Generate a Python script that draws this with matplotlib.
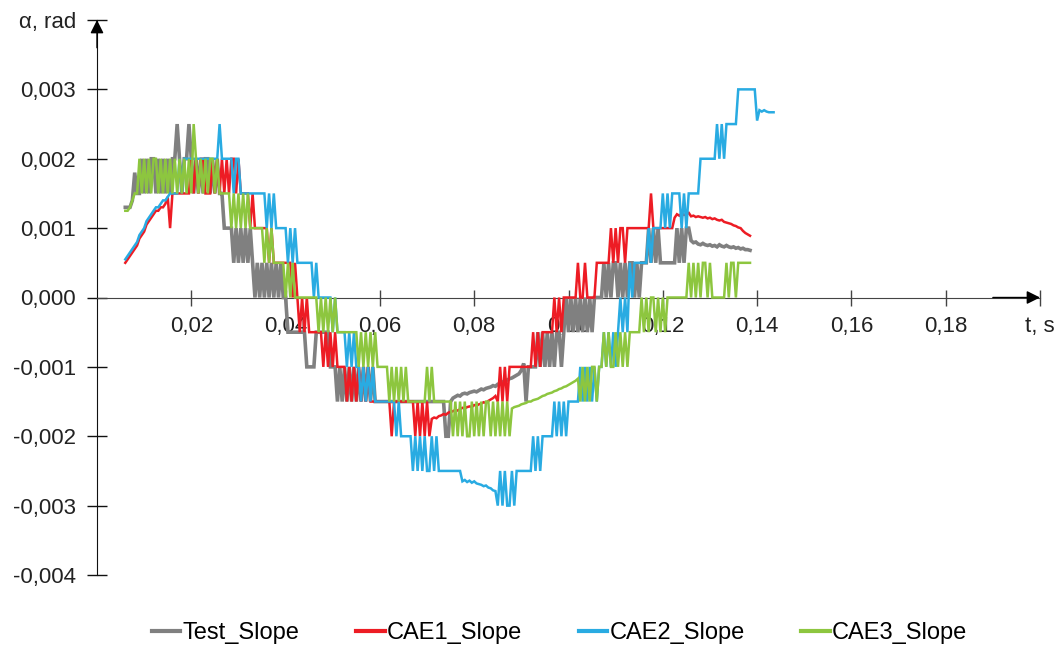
import numpy as np
import matplotlib.pyplot as plt

plt.rcParams['font.family'] = ['Liberation Sans', 'DejaVu Sans']

# samples start at 6 ms, one every 0.5 ms; values in 1e-4 rad
t_start = 0.006
t_step = 0.0005
unit = 1e-4

test_slope = [
    13, 13, 13, 14, 18, 15, 15, 20, 15, 20, 15, 20, 20, 15, 20, 15, 20, 15, 20, 15,
    20, 20, 25, 20, 15, 20, 20, 25, 20, 15, 20, 15, 20, 15, 20, 20, 15, 20, 15, 20,
    15, 15, 10, 10, 10, 10, 5, 10, 5, 10, 5, 10, 5, 10, 5, 0, 5, 0, 5, 0,
    5, 0, 5, 0, 5, 0, 5, 0, 0, -5, -5, -5, -5, -5, -5, -5, -5, -10, -10, -10,
    -10, -5, -5, -5, -5, -5, -5, -10, -10, -10, -15, -10, -15, -10, -15, -10, -15, -10, -15, -10,
    -15, -10, -15, -10, -15, -10, -15, -15, -15, -15, -15, -15, -15, -15, -15, -15, -15, -15, -15, -15,
    -15, -15, -15, -15, -15, -15, -15, -15, -15, -15, -15, -15, -15, -15, -15, -15, -20, -20, -15, -14.5,
    -14.3, -14.1, -14.2, -13.9, -13.8, -13.9, -13.7, -13.6, -13.5, -13.6, -13.4, -13.2, -13.3, -13.1, -13.0, -12.9, -12.7, -12.8, -12.5, -12.4,
    -12.2, -12.0, -11.9, -11.7, -11.6, -11.4, -11.2, -11.0, -10.5, -9.5, -15, -10, -10, -10, -10, -5, -10, -5, -10, -5,
    -10, -5, -10, -5, -5, -10, -5, 0, -5, 0, -5, 0, -5, 0, -5, 0, -5, 0, -5, 0,
    0, 0, 0, 5, 0, 5, 0, 5, 5, 0, 5, 0, 5, 0, 5, 5, 0, 5, 0, 5,
    5, 5, 10, 5, 10, 5, 10, 5, 5, 5, 5, 5, 5, 5, 10, 5, 10, 5, 10, 10,
    8.2, 7.9, 8.0, 7.7, 7.6, 7.8, 7.6, 7.5, 7.6, 7.4, 7.5, 7.3, 7.6, 7.4, 7.3, 7.5, 7.3, 7.2, 7.3, 7.1,
    7.2, 7.0, 7.1, 6.9, 6.9, 6.8,
]

cae1_slope = [
    5, 5.5, 6, 6.5, 7, 7.5, 8.5, 9, 9.5, 10.5, 11, 11.5, 12, 12.5, 12.5, 13, 13, 13.5, 14.5, 10,
    15, 15, 15, 15, 15, 15, 15, 15, 20, 15, 20, 15, 20, 20, 15, 15, 15, 20, 15, 20,
    15, 20, 15, 20, 15, 20, 20, 15, 20, 15, 15, 15, 15, 10, 15, 10, 10, 10, 10, 10,
    10, 5, 10, 5, 5, 5, 5, 5, 5, 5, 5, 0, 5, 0, -5, 0, -5, 0, -5, -5,
    -5, -5, -5, -5, -10, -5, -10, -5, -10, -5, -10, -10, -10, -10, -15, -10, -15, -10, -15, -10,
    -15, -10, -15, -10, -15, -15, -15, -15, -15, -15, -15, -15, -15, -20, -15, -15, -15, -15, -15, -15,
    -15, -15, -15, -20, -15, -20, -15, -20, -15, -20, -17.5, -17.3, -17.4, -17.1, -17.0, -16.8, -16.9, -16.6, -16.5, -16.4,
    -16.2, -16.3, -16.1, -15.9, -16.0, -15.8, -15.7, -15.8, -15.5, -15.6, -15.4, -15.3, -15.1, -15.2, -14.9, -14.7, -14.5, -14.2, -15, -10,
    -15, -10, -15, -10, -10, -10, -10, -10, -10, -10, -10, -10, -10, -5, -10, -5, -10, -5, -5, -5,
    -5, -5, 0, -5, 0, -5, 0, 0, 0, 0, 0, 0, 5, 0, 0, 5, 0, 0, 0, 0,
    5, 5, 5, 5, 5, 5, 10, 5, 10, 5, 10, 10, 5, 10, 10, 10, 10, 10, 10, 10,
    10, 10, 10, 15, 10, 10, 10, 10, 10, 10, 10, 10, 10, 11.5, 12.0, 11.8, 12.1, 11.9, 12.0, 12.2,
    11.7, 11.8, 11.6, 11.7, 11.6, 11.5, 11.6, 11.4, 11.5, 11.3, 11.4, 11.2, 11.1, 11.2, 10.9, 10.8, 10.7, 10.6, 10.4, 10.3,
    10.1, 10.0, 9.6, 9.3, 9.1, 8.9,
]

cae2_slope = [
    5.5, 6, 6.5, 7, 7.5, 8, 9, 9.5, 10, 11, 11.5, 12, 12.5, 13, 13, 13.5, 14, 14, 14.5, 15,
    15, 15, 15, 20, 15, 20, 20, 20, 20, 20, 20, 20, 20, 20, 20, 20, 20, 20, 20, 20,
    25, 20, 20, 20, 20, 20, 15, 20, 20, 15, 15, 15, 15, 15, 15, 15, 15, 15, 15, 15,
    10, 15, 10, 15, 10, 10, 10, 10, 10, 5, 10, 5, 10, 5, 5, 5, 5, 5, 5, 5,
    0, 5, 0, 0, 0, 0, 0, 0, -5, 0, -5, -5, -5, -5, -10, -5, -10, -5, -10, -10,
    -15, -10, -15, -10, -15, -10, -15, -15, -15, -15, -15, -15, -15, -15, -15, -20, -15, -20, -20, -20,
    -20, -20, -25, -20, -25, -20, -25, -20, -25, -25, -20, -25, -20, -25, -25, -25, -25, -25, -25, -25,
    -25, -25, -25, -26.5, -26.3, -26.6, -26.4, -26.7, -26.5, -26.8, -26.9, -27.0, -27.2, -27.1, -27.4, -27.5, -27.8, -27.9, -30, -25,
    -30, -25, -30, -30, -25, -30, -25, -25, -25, -25, -25, -25, -25, -20, -25, -20, -25, -20, -20, -20,
    -20, -20, -15, -20, -15, -20, -15, -20, -15, -15, -15, -15, -15, -10, -15, -10, -15, -10, -15, -10,
    -15, -10, -10, -5, -10, -5, -10, -5, -10, -5, 0, -5, 0, -5, 5, 0, 5, 5, 5, 5,
    5, 5, 10, 5, 10, 10, 10, 10, 15, 10, 15, 10, 15, 15, 15, 15, 10, 15, 10, 15,
    15, 15, 15, 15, 20, 20, 20, 20, 20, 20, 20, 25, 20, 25, 20, 25, 25, 25, 25, 25,
    30, 30, 30, 30, 30, 30, 30, 30, 25.5, 27.0, 26.8, 27.0, 26.8, 26.7, 26.7, 26.7,
]

cae3_slope = [
    12.5, 12.5, 13, 14, 15, 15, 20, 15, 20, 15, 20, 15, 20, 20, 15, 20, 15, 20, 15, 20,
    15, 20, 15, 20, 15, 20, 15, 20, 15, 25, 20, 15, 20, 15, 20, 15, 20, 20, 15, 20,
    15, 15, 15, 15, 15, 10, 15, 10, 15, 10, 15, 10, 15, 10, 10, 10, 10, 10, 10, 5,
    10, 5, 10, 5, 5, 5, 5, 5, 0, 5, 0, 5, 0, 0, 0, 0, 0, 0, 0, 0,
    0, 0, -5, 0, -5, 0, -5, 0, -5, 0, -5, -5, -5, -5, -5, -5, -5, -5, -5, -10,
    -5, -10, -5, -10, -5, -10, -5, -10, -10, -10, -10, -10, -15, -10, -15, -10, -15, -10, -15, -10,
    -15, -15, -15, -15, -15, -15, -15, -15, -10, -15, -10, -15, -15, -15, -15, -15, -15, -15, -15, -20,
    -15, -20, -15, -20, -15, -20, -20, -15, -20, -15, -20, -15, -20, -15, -15, -20, -15, -20, -15, -20,
    -15, -20, -15, -20, -16.0, -15.8, -15.7, -15.6, -15.4, -15.3, -15.2, -15.0, -15.0, -14.8, -14.7, -14.6, -14.4, -14.2, -14.1, -13.9,
    -13.8, -13.7, -13.5, -13.4, -13.2, -13.1, -12.9, -12.8, -12.6, -12.4, -12.2, -12.0, -11.7, -15, -10, -15, -10, -15, -10, -10,
    -15, -10, -10, -5, -10, -5, -10, -10, -5, -10, -5, -10, -5, -10, -5, -5, -5, -5, -5, 0,
    -5, 0, -5, 0, 0, -5, 0, -5, 0, -5, 0, 0, 0, 0, 0, 0, 0, 0, 0, 5,
    0, 5, 0, 5, 0, 5, 5, 0, 5, 0, 0, 0, 0, 0, 0, 5, 0, 5, 5, 0,
    5, 5, 5, 5, 5, 5,
]

series = [
    ('Test_Slope', test_slope, '#808080', 2.6),
    ('CAE1_Slope', cae1_slope, '#ED1C24', 1.8),
    ('CAE2_Slope', cae2_slope, '#29ABE2', 1.8),
    ('CAE3_Slope', cae3_slope, '#8DC63F', 1.8),
]

x_ticks = [0.02, 0.04, 0.06, 0.08, 0.10, 0.12, 0.14, 0.16, 0.18, 0.20]
x_labels = ['0,02', '0,04', '0,06', '0,08', '0,10', '0,12', '0,14', '0,16', '0,18', 't, s']
y_ticks = [-0.004, -0.003, -0.002, -0.001, 0.0, 0.001, 0.002, 0.003, 0.004]
y_labels = ['-0,004', '-0,003', '-0,002', '-0,001', '0,000', '0,001', '0,002', '0,003', 'α, rad']

W, H = 1058, 646
fig = plt.figure(figsize=(W / 100, H / 100), dpi=100)
ax = fig.add_axes([97 / W, 1 - 575 / H, (1040 - 97) / W, (575 - 20) / H])

for name, vals, color, lw in series:
    v = np.array(vals) * unit
    t = t_start + t_step * np.arange(len(v))
    ax.plot(t, v, color=color, lw=lw, label=name, zorder=3, solid_joinstyle='miter')

ax.set_xlim(0, 0.2)
ax.set_ylim(-0.004, 0.004)
ax.spines['left'].set_position(('data', 0))
ax.spines['bottom'].set_position(('data', 0))
ax.spines['top'].set_visible(False)
ax.spines['right'].set_visible(False)
ax.spines['left'].set_color('#111111')
ax.spines['bottom'].set_color('#444444')
ax.set_xticks(x_ticks)
ax.set_xticklabels(x_labels)
ax.set_yticks(y_ticks)
ax.set_yticklabels(y_labels)
ax.tick_params(axis='x', direction='inout', length=11, width=1, color='#444444',
               pad=8, labelsize=16, labelcolor='#222222')
ax.tick_params(axis='y', direction='inout', length=14, width=1, color='#111111',
               pad=8, labelsize=16, labelcolor='#222222')

# arrow heads on the axes
ax.annotate('', xy=(0, 0.004), xytext=(0, 0.0036), annotation_clip=False,
            arrowprops=dict(arrowstyle='-|>', color='black', lw=1, mutation_scale=20,
                            shrinkA=0, shrinkB=0))
ax.annotate('', xy=(0.2, 0), xytext=(0.19, 0), annotation_clip=False,
            arrowprops=dict(arrowstyle='-|>', color='black', lw=1, mutation_scale=20,
                            shrinkA=0, shrinkB=0))

leg = fig.legend(loc='center', bbox_to_anchor=(0.529, 0.02), ncol=4, frameon=False,
                 fontsize=17, handlelength=1.2, handletextpad=0.1, columnspacing=2.4)
for line in leg.get_lines():
    line.set_linewidth(3)

fig.savefig('out.png', dpi=100)
